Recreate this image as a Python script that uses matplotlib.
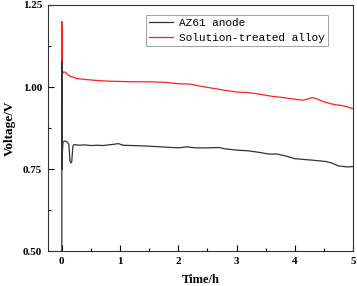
import matplotlib
matplotlib.use("Agg")
import matplotlib.pyplot as plt
from matplotlib.ticker import MultipleLocator

# AZ61 anode
t_az = [0.0, 0.0, 0.005, 0.01, 0.02, 0.05, 0.09, 0.12, 0.14, 0.155, 0.17, 0.19, 0.21,
        0.3, 0.4, 0.5, 0.6, 0.7, 0.8, 0.9, 0.97, 1.05, 1.2, 1.4, 1.6, 1.8, 2.0, 2.15,
        2.3, 2.5, 2.7, 2.8, 3.0, 3.2, 3.4, 3.55, 3.7, 3.85, 4.0, 4.2, 4.4, 4.55, 4.65,
        4.75, 4.9, 5.0]
v_az = [0.50, 1.078, 0.75, 0.80, 0.833, 0.836, 0.833, 0.826, 0.775, 0.769, 0.772, 0.82, 0.825,
        0.823, 0.824, 0.822, 0.823, 0.822, 0.824, 0.826, 0.828, 0.823, 0.822, 0.821, 0.819, 0.817, 0.815, 0.818,
        0.815, 0.815, 0.816, 0.812, 0.808, 0.806, 0.801, 0.796, 0.796, 0.790, 0.782, 0.779, 0.776, 0.773, 0.768,
        0.760, 0.757, 0.758]

# Solution-treated alloy
t_st = [0.0, 0.0, 0.01, 0.03, 0.06, 0.1, 0.15, 0.2, 0.25, 0.4, 0.6, 0.8, 1.0, 1.2, 1.5, 1.8,
        2.0, 2.2, 2.4, 2.6, 2.8, 3.0, 3.2, 3.4, 3.6, 3.8, 4.0, 4.15, 4.3, 4.35, 4.5, 4.6,
        4.7, 4.8, 4.9, 5.0]
v_st = [0.976, 1.199, 1.04, 1.046, 1.045, 1.038, 1.032, 1.030, 1.026, 1.023, 1.020, 1.018, 1.017, 1.016, 1.016, 1.014,
        1.010, 1.009, 1.002, 0.996, 0.990, 0.985, 0.983, 0.978, 0.972, 0.968, 0.963, 0.960, 0.968, 0.966, 0.955, 0.950,
        0.946, 0.944, 0.940, 0.934]

plt.rcParams['font.family'] = 'Liberation Serif'
plt.rcParams['font.weight'] = 'bold'

fig = plt.figure(figsize=(3.57, 2.86), dpi=100)
ax = fig.add_axes([0.134, 0.121, 0.855, 0.862])

ax.plot(t_st, v_st, color='#ff2020', lw=0.9, label='Solution-treated alloy', zorder=2)
ax.plot(t_az, v_az, color='#333333', lw=0.9, label='AZ61 anode', zorder=3)

ax.set_xlim(-0.24, 5.0)
ax.set_ylim(0.5, 1.25)
ax.xaxis.set_major_locator(MultipleLocator(1))
ax.xaxis.set_minor_locator(MultipleLocator(0.5))
ax.yaxis.set_major_locator(MultipleLocator(0.25))
ax.yaxis.set_minor_locator(MultipleLocator(0.125))
ax.set_yticks([0.5, 0.75, 1.0, 1.25])
ax.set_yticklabels(['0.50', '0.75', '1.00', '1.25'])
ax.tick_params(which='both', direction='in', top=False, right=False, labelsize=8, width=0.8)
ax.tick_params(which='major', length=4, pad=4)
ax.tick_params(which='minor', length=2.5)
for s in ax.spines.values():
    s.set_linewidth(0.8)
    s.set_color('#333333')

ax.set_xlabel('Time/h', fontsize=9, fontweight='bold', labelpad=6)
ax.set_ylabel('Voltage/V', fontsize=9.5, fontweight='bold', labelpad=5)

h, l = ax.get_legend_handles_labels()
leg = ax.legend(h[::-1], l[::-1], loc='upper right', bbox_to_anchor=(0.918, 0.96),
                borderaxespad=0,
                prop={'family': 'Liberation Mono', 'size': 8, 'weight': 'normal'},
                frameon=True, fancybox=False, edgecolor='#888888', handlelength=2.2,
                borderpad=0.3, labelspacing=0.42, handletextpad=0.5)
leg.get_frame().set_linewidth(0.7)

fig.savefig('out.png', dpi=100)
